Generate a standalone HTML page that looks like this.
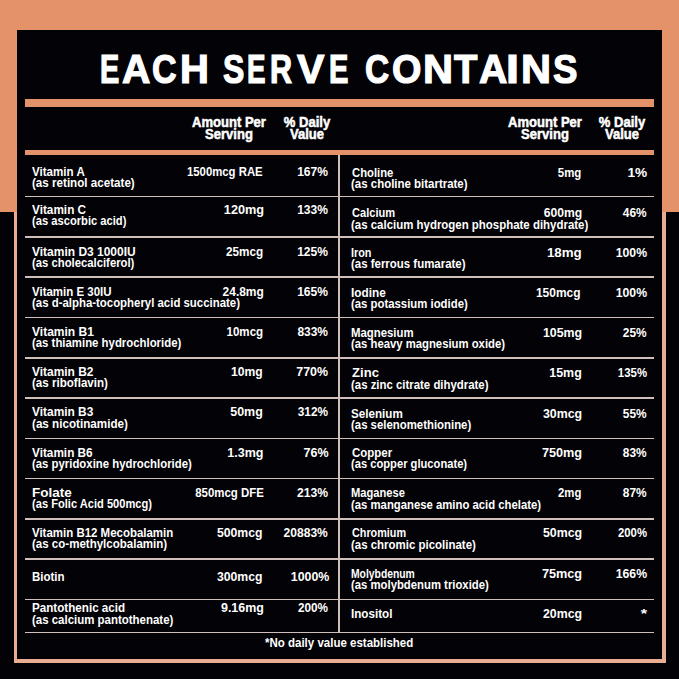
<!DOCTYPE html>
<html><head><meta charset="utf-8"><style>
html,body{margin:0;padding:0;}
body{width:679px;height:679px;position:relative;overflow:hidden;background:#030206;font-family:"Liberation Sans",sans-serif;}
.a{position:absolute;}
.t{position:absolute;white-space:nowrap;color:#fff;font-weight:bold;font-size:13.3px;line-height:13.3px;transform-origin:left top;-webkit-text-stroke:0px #fff;}
.t.r{transform-origin:right top;}
.nm{transform:scaleX(0.915);}
.val{transform:scaleX(0.85);}
.hd{position:absolute;color:#fff;font-weight:bold;font-size:14px;line-height:12px;text-align:center;white-space:nowrap;transform:scaleX(0.93);-webkit-text-stroke:0.5px #fff;}
.ln{position:absolute;left:25px;width:629px;height:1.7px;background:#d0bfbb;}
.tl{position:absolute;top:49px;color:#fff;font-weight:bold;font-size:40px;line-height:40px;transform-origin:left top;-webkit-text-stroke:1.2px #fff;}
</style></head><body>
<div class="a" style="left:14px;top:200px;width:651.5px;height:462.5px;background:#eaac92"></div>
<div class="a" style="left:0;top:0;width:679px;height:212px;background:#e3926a"></div>
<div class="a" style="left:17px;top:30px;width:645px;height:629px;background:#030206"></div>
<span class="tl" style="left:99.63px;transform:scaleX(0.723)">E</span><span class="tl" style="left:122.02px;transform:scaleX(0.981)">A</span><span class="tl" style="left:152.15px;transform:scaleX(0.852)">C</span><span class="tl" style="left:180.00px;transform:scaleX(1.000)">H</span><span class="tl" style="left:222.60px;transform:scaleX(0.800)">S</span><span class="tl" style="left:246.61px;transform:scaleX(0.695)">E</span><span class="tl" style="left:270.41px;transform:scaleX(0.764)">R</span><span class="tl" style="left:296.60px;transform:scaleX(1.026)">V</span><span class="tl" style="left:328.82px;transform:scaleX(0.727)">E</span><span class="tl" style="left:365.16px;transform:scaleX(0.837)">C</span><span class="tl" style="left:392.06px;transform:scaleX(0.945)">O</span><span class="tl" style="left:422.58px;transform:scaleX(1.039)">N</span><span class="tl" style="left:454.00px;transform:scaleX(0.958)">T</span><span class="tl" style="left:478.72px;transform:scaleX(0.981)">A</span><span class="tl" style="left:506.30px;transform:scaleX(1.167)">I</span><span class="tl" style="left:520.78px;transform:scaleX(1.039)">N</span><span class="tl" style="left:553.08px;transform:scaleX(0.917)">S</span>
<div class="a" style="left:25px;top:99px;width:629px;height:8px;background:#e3926a"></div>
<div class="a" style="left:25px;top:150px;width:629px;height:5px;background:#e3926a"></div>
<div class="hd" style="left:169px;width:120px;top:115.5px">Amount Per<br>Serving</div>
<div class="hd" style="left:247px;width:120px;top:115.5px">% Daily<br>Value</div>
<div class="hd" style="left:485px;width:120px;top:115.5px">Amount Per<br>Serving</div>
<div class="hd" style="left:562px;width:120px;top:115.5px">% Daily<br>Value</div>
<div class="a" style="left:338px;top:155px;width:2px;height:478px;background:#d0bfbb"></div>
<div class="ln" style="top:195.70px"></div>
<div class="ln" style="top:236.00px"></div>
<div class="ln" style="top:276.30px"></div>
<div class="ln" style="top:316.60px"></div>
<div class="ln" style="top:356.90px"></div>
<div class="ln" style="top:397.20px"></div>
<div class="ln" style="top:437.50px"></div>
<div class="ln" style="top:477.80px"></div>
<div class="ln" style="top:518.10px"></div>
<div class="ln" style="top:558.40px"></div>
<div class="ln" style="top:598.70px"></div>
<div class="ln" style="top:631.60px"></div>
<div class="t" style="left:32.00px;top:164.75px;transform:scaleX(0.8708)">Vitamin A</div>
<div class="t" style="left:32.00px;top:176.05px;transform:scaleX(0.8743)">(as retinol acetate)</div>
<div class="t r" style="right:416.00px;top:164.75px;transform:scaleX(0.8543)">1500mcg RAE</div>
<div class="t r" style="right:351.00px;top:164.75px;transform:scaleX(0.9076)">167%</div>
<div class="t" style="left:32.00px;top:202.95px;transform:scaleX(0.8861)">Vitamin C</div>
<div class="t" style="left:32.00px;top:214.25px;transform:scaleX(0.8404)">(as ascorbic acid)</div>
<div class="t r" style="right:415.00px;top:202.95px;transform:scaleX(0.9560)">120mg</div>
<div class="t r" style="right:351.00px;top:202.95px;transform:scaleX(0.9076)">133%</div>
<div class="t" style="left:32.00px;top:244.65px;transform:scaleX(0.9010)">Vitamin D3 1000IU</div>
<div class="t" style="left:32.00px;top:255.95px;transform:scaleX(0.8498)">(as cholecalciferol)</div>
<div class="t r" style="right:416.00px;top:244.65px;transform:scaleX(0.8822)">25mcg</div>
<div class="t r" style="right:351.00px;top:244.65px;transform:scaleX(0.9076)">125%</div>
<div class="t" style="left:32.00px;top:284.65px;transform:scaleX(0.8635)">Vitamin E 30IU</div>
<div class="t" style="left:32.00px;top:295.95px;transform:scaleX(0.8581)">(as d-alpha-tocopheryl acid succinate)</div>
<div class="t r" style="right:415.00px;top:284.65px;transform:scaleX(0.9006)">24.8mg</div>
<div class="t r" style="right:351.00px;top:284.65px;transform:scaleX(0.9076)">165%</div>
<div class="t" style="left:32.00px;top:325.05px;transform:scaleX(0.9042)">Vitamin B1</div>
<div class="t" style="left:32.00px;top:336.35px;transform:scaleX(0.8562)">(as thiamine hydrochloride)</div>
<div class="t r" style="right:416.00px;top:325.05px;transform:scaleX(0.8693)">10mcg</div>
<div class="t r" style="right:351.00px;top:325.05px;transform:scaleX(0.9007)">833%</div>
<div class="t" style="left:32.00px;top:364.95px;transform:scaleX(0.8978)">Vitamin B2</div>
<div class="t" style="left:32.00px;top:376.25px;transform:scaleX(0.8708)">(as riboflavin)</div>
<div class="t r" style="right:416.00px;top:364.95px;transform:scaleX(0.9113)">10mg</div>
<div class="t r" style="right:351.00px;top:364.95px;transform:scaleX(0.9339)">770%</div>
<div class="t" style="left:32.00px;top:405.35px;transform:scaleX(0.8956)">Vitamin B3</div>
<div class="t" style="left:32.00px;top:416.65px;transform:scaleX(0.8767)">(as nicotinamide)</div>
<div class="t r" style="right:416.00px;top:405.35px;transform:scaleX(0.9366)">50mg</div>
<div class="t r" style="right:351.00px;top:405.35px;transform:scaleX(0.8901)">312%</div>
<div class="t" style="left:32.00px;top:445.65px;transform:scaleX(0.8860)">Vitamin B6</div>
<div class="t" style="left:32.00px;top:456.95px;transform:scaleX(0.8548)">(as pyridoxine hydrochloride)</div>
<div class="t r" style="right:416.00px;top:445.65px;transform:scaleX(0.9413)">1.3mg</div>
<div class="t r" style="right:350.00px;top:445.65px;transform:scaleX(0.9398)">76%</div>
<div class="t" style="left:32.00px;top:485.95px;transform:scaleX(1.0149)">Folate</div>
<div class="t" style="left:32.00px;top:497.25px;transform:scaleX(0.8359)">(as Folic Acid 500mcg)</div>
<div class="t r" style="right:415.00px;top:485.95px;transform:scaleX(0.8599)">850mcg DFE</div>
<div class="t r" style="right:351.00px;top:485.95px;transform:scaleX(0.9137)">213%</div>
<div class="t" style="left:32.00px;top:526.15px;transform:scaleX(0.8621)">Vitamin B12 Mecobalamin</div>
<div class="t" style="left:32.00px;top:537.45px;transform:scaleX(0.8667)">(as co-methylcobalamin)</div>
<div class="t r" style="right:416.00px;top:526.15px;transform:scaleX(0.9202)">500mcg</div>
<div class="t r" style="right:351.00px;top:526.15px;transform:scaleX(0.9064)">20883%</div>
<div class="t" style="left:32.00px;top:570.45px;transform:scaleX(0.8655)">Biotin</div>
<div class="t r" style="right:416.00px;top:570.45px;transform:scaleX(0.9202)">300mcg</div>
<div class="t r" style="right:350.00px;top:570.45px;transform:scaleX(0.9331)">1000%</div>
<div class="t" style="left:32.00px;top:601.35px;transform:scaleX(0.8753)">Pantothenic acid</div>
<div class="t" style="left:32.00px;top:612.65px;transform:scaleX(0.8618)">(as calcium pantothenate)</div>
<div class="t r" style="right:415.00px;top:601.35px;transform:scaleX(0.9351)">9.16mg</div>
<div class="t r" style="right:351.00px;top:601.35px;transform:scaleX(0.8832)">200%</div>
<div class="t" style="left:351.50px;top:165.75px;transform:scaleX(0.8481)">Choline</div>
<div class="t" style="left:350.50px;top:177.05px;transform:scaleX(0.8620)">(as choline bitartrate)</div>
<div class="t r" style="right:98.00px;top:165.75px;transform:scaleX(0.8598)">5mg</div>
<div class="t r" style="right:32.00px;top:165.75px;transform:scaleX(1.0270)">1%</div>
<div class="t" style="left:351.50px;top:206.35px;transform:scaleX(0.8334)">Calcium</div>
<div class="t" style="left:350.50px;top:217.65px;transform:scaleX(0.8609)">(as calcium hydrogen phosphate dihydrate)</div>
<div class="t r" style="right:97.00px;top:206.35px;transform:scaleX(0.9139)">600mg</div>
<div class="t r" style="right:32.00px;top:206.35px;transform:scaleX(0.8954)">46%</div>
<div class="t" style="left:350.50px;top:245.95px;transform:scaleX(0.8164)">Iron</div>
<div class="t" style="left:350.50px;top:257.25px;transform:scaleX(0.8612)">(as ferrous fumarate)</div>
<div class="t r" style="right:97.00px;top:245.95px;transform:scaleX(1.0023)">18mg</div>
<div class="t r" style="right:32.00px;top:245.95px;transform:scaleX(0.9205)">100%</div>
<div class="t" style="left:350.50px;top:285.85px;transform:scaleX(0.8868)">Iodine</div>
<div class="t" style="left:350.50px;top:297.15px;transform:scaleX(0.8540)">(as potassium iodide)</div>
<div class="t r" style="right:98.00px;top:285.85px;transform:scaleX(0.9004)">150mcg</div>
<div class="t r" style="right:32.00px;top:285.85px;transform:scaleX(0.9205)">100%</div>
<div class="t" style="left:350.50px;top:326.05px;transform:scaleX(0.8553)">Magnesium</div>
<div class="t" style="left:350.50px;top:337.35px;transform:scaleX(0.8505)">(as heavy magnesium oxide)</div>
<div class="t r" style="right:97.00px;top:326.05px;transform:scaleX(0.9303)">105mg</div>
<div class="t r" style="right:32.00px;top:326.05px;transform:scaleX(0.8954)">25%</div>
<div class="t" style="left:351.50px;top:366.35px;transform:scaleX(0.9848)">Zinc</div>
<div class="t" style="left:350.50px;top:377.65px;transform:scaleX(0.8575)">(as zinc citrate dihydrate)</div>
<div class="t r" style="right:97.00px;top:366.35px;transform:scaleX(0.9359)">15mg</div>
<div class="t r" style="right:32.00px;top:366.35px;transform:scaleX(0.8570)">135%</div>
<div class="t" style="left:350.50px;top:406.55px;transform:scaleX(0.8758)">Selenium</div>
<div class="t" style="left:350.50px;top:417.85px;transform:scaleX(0.8565)">(as selenomethionine)</div>
<div class="t r" style="right:97.00px;top:406.55px;transform:scaleX(0.9303)">30mcg</div>
<div class="t r" style="right:32.00px;top:406.55px;transform:scaleX(0.8939)">55%</div>
<div class="t" style="left:351.50px;top:446.15px;transform:scaleX(0.8637)">Copper</div>
<div class="t" style="left:350.50px;top:457.45px;transform:scaleX(0.8402)">(as copper gluconate)</div>
<div class="t r" style="right:97.00px;top:446.15px;transform:scaleX(0.9555)">750mg</div>
<div class="t r" style="right:32.00px;top:446.15px;transform:scaleX(0.8954)">83%</div>
<div class="t" style="left:350.50px;top:486.45px;transform:scaleX(0.8377)">Maganese</div>
<div class="t" style="left:350.50px;top:497.75px;transform:scaleX(0.8517)">(as manganese amino acid chelate)</div>
<div class="t r" style="right:98.00px;top:486.45px;transform:scaleX(0.8516)">2mg</div>
<div class="t r" style="right:32.00px;top:486.45px;transform:scaleX(0.8954)">87%</div>
<div class="t" style="left:351.50px;top:526.45px;transform:scaleX(0.8131)">Chromium</div>
<div class="t" style="left:350.50px;top:537.75px;transform:scaleX(0.8619)">(as chromic picolinate)</div>
<div class="t r" style="right:97.00px;top:526.45px;transform:scaleX(0.9303)">50mcg</div>
<div class="t r" style="right:32.00px;top:526.45px;transform:scaleX(0.8530)">200%</div>
<div class="t" style="left:350.50px;top:567.05px;transform:scaleX(0.7783)">Molybdenum</div>
<div class="t" style="left:350.50px;top:578.35px;transform:scaleX(0.8515)">(as molybdenum trioxide)</div>
<div class="t r" style="right:97.00px;top:567.05px;transform:scaleX(0.9555)">75mcg</div>
<div class="t r" style="right:32.00px;top:567.05px;transform:scaleX(0.9205)">166%</div>
<div class="t" style="left:350.50px;top:607.05px;transform:scaleX(0.8762)">Inositol</div>
<div class="t r" style="right:97.00px;top:607.05px;transform:scaleX(0.9289)">20mcg</div>
<div class="t r" style="right:32.00px;top:607.05px;transform:scaleX(1.2281)">*</div>
<div class="t" style="left:265.00px;top:635.70px;transform:scaleX(0.8649)">*No daily value established</div>
</body></html>
